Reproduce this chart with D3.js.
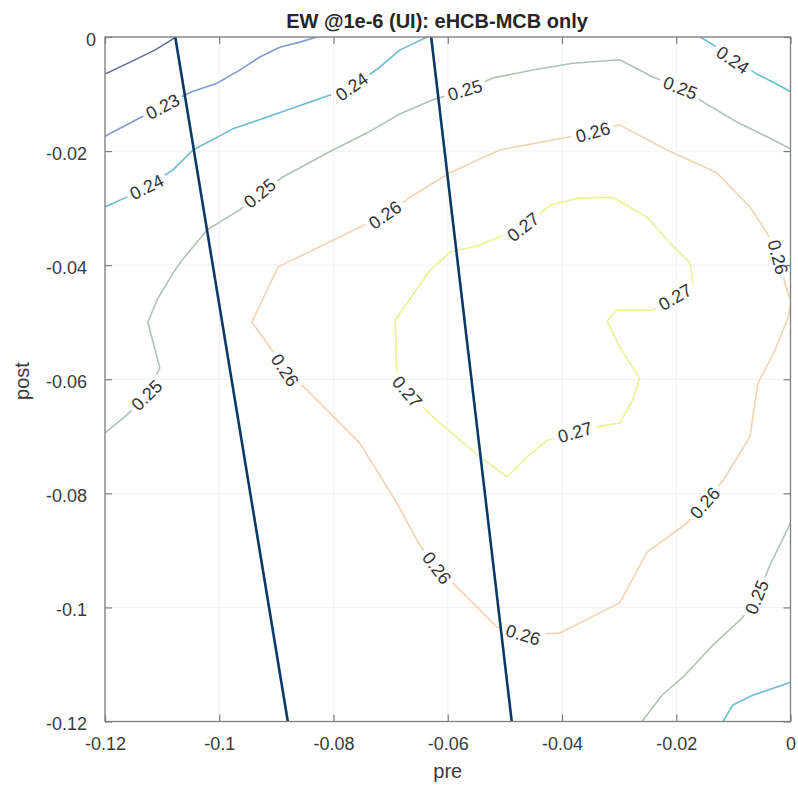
<!DOCTYPE html>
<html>
<head>
<meta charset="utf-8">
<script src="https://cdn.jsdelivr.net/npm/d3@7"></script>
<style>
  html, body { margin: 0; padding: 0; background: #fff; }
  svg { display: block; font-family: "Liberation Sans", Arial, Helvetica, sans-serif; }
</style>
</head>
<body>
<svg id="chart" width="798" height="788"></svg>
<script>
// Axis ticks
const xTicks = [-0.12, -0.1, -0.08, -0.06, -0.04, -0.02, 0];
const xTickLabels = ["-0.12", "-0.1", "-0.08", "-0.06", "-0.04", "-0.02", "0"];
const yTicks = [0, -0.02, -0.04, -0.06, -0.08, -0.1, -0.12];
const yTickLabels = ["0", "-0.02", "-0.04", "-0.06", "-0.08", "-0.1", "-0.12"];

// Contour levels of EW
const contourLevels = [0.22, 0.23, 0.24, 0.25, 0.26, 0.27];

// Iso-lines, points as [pre, post]
const iso022 = [[-0.12, -0.0065], [-0.1156, -0.0044], [-0.1113, -0.0023], [-0.1090, -0.0009], [-0.1076, 0]];
const iso023 = [[-0.12, -0.0174], [-0.1147, -0.0146], [-0.1099, -0.0121], [-0.1048, -0.0096], [-0.1004, -0.0081],
                [-0.0964, -0.0058], [-0.0929, -0.0035], [-0.0894, -0.0018], [-0.0859, -0.0009], [-0.0829, 0]];
const iso024a = [[-0.12, -0.0298], [-0.1165, -0.0282], [-0.1127, -0.0263], [-0.1081, -0.0233], [-0.1046, -0.0198],
                 [-0.0976, -0.0161], [-0.0881, -0.0128], [-0.0801, -0.0100], [-0.0768, -0.0088], [-0.0719, -0.0053],
                 [-0.0684, -0.0023], [-0.0636, 0]];
const iso024b = [[-0.0158, 0], [-0.0132, -0.0016], [-0.0097, -0.0040], [-0.0059, -0.0065], [-0.0027, -0.0081], [0, -0.0096]];
const iso024c = [[-0.0118, -0.12], [-0.0101, -0.1171], [-0.0066, -0.1154], [0, -0.1131]];
const iso025a = [[-0.12, -0.0694], [-0.1162, -0.0663], [-0.1127, -0.0628], [-0.1104, -0.0580], [-0.1125, -0.0500],
                 [-0.1109, -0.0461], [-0.1081, -0.0414], [-0.1065, -0.0391], [-0.1021, -0.0338], [-0.0964, -0.0303],
                 [-0.0929, -0.0274], [-0.0888, -0.0245], [-0.0801, -0.0198], [-0.0741, -0.0168], [-0.0684, -0.0135],
                 [-0.0626, -0.0110], [-0.0570, -0.0093], [-0.0521, -0.0072], [-0.0451, -0.0058], [-0.0381, -0.0046],
                 [-0.0299, -0.0040], [-0.0241, -0.0070], [-0.0193, -0.0089], [-0.0146, -0.0118], [-0.0094, -0.0149],
                 [-0.0041, -0.0175], [0, -0.0196]];
const iso025b = [[0, -0.0852], [-0.0036, -0.0926], [-0.0059, -0.0982], [-0.0085, -0.1019], [-0.0136, -0.1066],
                 [-0.0185, -0.1119], [-0.0225, -0.1154], [-0.0260, -0.12]];
const iso026 = [[0, -0.0461], [-0.0006, -0.0444], [-0.0022, -0.0386], [-0.0041, -0.0344], [-0.0071, -0.0298],
                [-0.0129, -0.0238], [-0.0216, -0.0198], [-0.0299, -0.0154], [-0.0346, -0.0167], [-0.0386, -0.0175],
                [-0.0509, -0.0198], [-0.0596, -0.0238], [-0.0666, -0.0281], [-0.0710, -0.0312], [-0.0771, -0.0342],
                [-0.0897, -0.0403], [-0.0943, -0.0500], [-0.0916, -0.0537], [-0.0885, -0.0584], [-0.0846, -0.0619],
                [-0.0754, -0.0712], [-0.0689, -0.0817], [-0.0649, -0.0891], [-0.0619, -0.0931], [-0.0573, -0.0975],
                [-0.0514, -0.1034], [-0.0468, -0.1048], [-0.0404, -0.1045], [-0.0299, -0.0992], [-0.0251, -0.0903],
                [-0.0181, -0.0852], [-0.0150, -0.0817], [-0.0118, -0.0777], [-0.0071, -0.0701], [-0.0057, -0.0607],
                [-0.0027, -0.0549], [-0.0004, -0.0491], [0, -0.0470]];
const iso027 = [[-0.0176, -0.0396], [-0.0211, -0.0361], [-0.0251, -0.0316], [-0.0311, -0.0281], [-0.0369, -0.0282],
                [-0.0421, -0.0295], [-0.0468, -0.0333], [-0.0544, -0.0365], [-0.0596, -0.0377], [-0.0631, -0.0409],
                [-0.0692, -0.0496], [-0.0689, -0.0601], [-0.0671, -0.0622], [-0.0626, -0.0666], [-0.0544, -0.0736],
                [-0.0496, -0.0771], [-0.0461, -0.0736], [-0.0426, -0.0707], [-0.0377, -0.0693], [-0.0321, -0.0680],
                [-0.0299, -0.0677], [-0.0276, -0.0636], [-0.0264, -0.0598], [-0.0299, -0.0544], [-0.0321, -0.0498],
                [-0.0304, -0.0479], [-0.0241, -0.0479], [-0.0202, -0.0456], [-0.0171, -0.0430], [-0.0176, -0.0396]];

// Inline label anchors, [pre, post]
const labels023 = [[-0.1099, -0.0122]];
const labels024a = [[-0.1127, -0.0263], [-0.0768, -0.0087]];
const labels024b = [[-0.0101, -0.0040]];
const labels025a = [[-0.1127, -0.0628], [-0.0929, -0.0274], [-0.0570, -0.0093], [-0.0193, -0.0089]];
const labels025b = [[-0.0059, -0.0982]];
const labels026 = [[-0.0022, -0.0386], [-0.0346, -0.0167], [-0.0710, -0.0312], [-0.0885, -0.0584],
                   [-0.0619, -0.0931], [-0.0468, -0.1048], [-0.0150, -0.0817]];
const labels027 = [[-0.0468, -0.0333], [-0.0671, -0.0622], [-0.0377, -0.0693], [-0.0202, -0.0456]];

// Two straight boundary lines across the plane
const boundaryA = [[-0.1077, 0], [-0.0880, -0.12]];
const boundaryB = [[-0.0629, 0], [-0.0488, -0.12]];

const isoLines = [
  { level: 0.22, pts: iso022, labels: [] },
  { level: 0.23, pts: iso023, labels: labels023 },
  { level: 0.24, pts: iso024a, labels: labels024a },
  { level: 0.24, pts: iso024b, labels: labels024b },
  { level: 0.24, pts: iso024c, labels: [] },
  { level: 0.25, pts: iso025a, labels: labels025a },
  { level: 0.25, pts: iso025b, labels: labels025b },
  { level: 0.26, pts: iso026, labels: labels026 },
  { level: 0.27, pts: iso027, labels: labels027 }
];

const svg = d3.select("#chart");
const plot = { left: 105, right: 790.5, top: 37, bottom: 721.5 };

const x = d3.scaleLinear().domain([-0.12, 0]).range([plot.left, plot.right]);
const y = d3.scaleLinear().domain([-0.12, 0]).range([plot.bottom, plot.top]);

// faded parula-like colours per level
const color = d3.scaleOrdinal()
  .domain(contourLevels)
  .range(["#676b98", "#7e9dd0", "#6dbccd", "#b2c2b4", "#efd4b0", "#ebf294"]);

const fmt = d3.format(".2f");

// grid
const grid = svg.append("g");
grid.selectAll("line.gx").data(xTicks).join("line")
  .attr("x1", d => x(d)).attr("x2", d => x(d))
  .attr("y1", plot.top).attr("y2", plot.bottom)
  .attr("stroke", "#f1f1f1").attr("stroke-width", 1);
grid.selectAll("line.gy").data(yTicks).join("line")
  .attr("y1", d => y(d)).attr("y2", d => y(d))
  .attr("x1", plot.left).attr("x2", plot.right)
  .attr("stroke", "#f1f1f1").attr("stroke-width", 1);

// label placement: rotate text along the nearest segment
function labelAngle(screenPts, p) {
  let best = Infinity, ang = 0;
  for (let i = 0; i < screenPts.length - 1; i++) {
    const a = screenPts[i], b = screenPts[i + 1];
    const dx = b[0] - a[0], dy = b[1] - a[1];
    const len2 = dx * dx + dy * dy || 1;
    let t = ((p[0] - a[0]) * dx + (p[1] - a[1]) * dy) / len2;
    t = Math.max(0, Math.min(1, t));
    const qx = a[0] + t * dx, qy = a[1] + t * dy;
    const dist = Math.hypot(p[0] - qx, p[1] - qy);
    if (dist < best) { best = dist; ang = Math.atan2(dy, dx) * 180 / Math.PI; }
  }
  if (ang > 90) ang -= 180;
  if (ang < -90) ang += 180;
  return ang;
}

const defs = svg.append("defs");
defs.append("clipPath").attr("id", "plotClip").append("rect")
  .attr("x", plot.left).attr("y", plot.top)
  .attr("width", plot.right - plot.left).attr("height", plot.bottom - plot.top);
const mask = defs.append("mask").attr("id", "labelMask").attr("maskUnits", "userSpaceOnUse")
  .attr("x", 0).attr("y", 0).attr("width", 798).attr("height", 788);
mask.append("rect").attr("x", 0).attr("y", 0).attr("width", 798).attr("height", 788).attr("fill", "#fff");

const lineGen = d3.line().x(d => x(d[0])).y(d => y(d[1]));

const contourG = svg.append("g").attr("clip-path", "url(#plotClip)")
  .append("g").attr("mask", "url(#labelMask)");
contourG.selectAll("path").data(isoLines).join("path")
  .attr("d", d => lineGen(d.pts))
  .attr("fill", "none")
  .attr("stroke", d => color(d.level))
  .attr("stroke-width", 1.6)
  .attr("stroke-linejoin", "round");

const labelG = svg.append("g");
isoLines.forEach(line => {
  const screen = line.pts.map(p => [x(p[0]), y(p[1])]);
  line.labels.forEach(lp => {
    const px = x(lp[0]), py = y(lp[1]);
    const ang = labelAngle(screen, [px, py]);
    const t = labelG.append("text")
      .attr("transform", `translate(${px},${py}) rotate(${ang})`)
      .attr("text-anchor", "middle")
      .attr("dy", "0.35em")
      .attr("font-size", 18)
      .attr("fill", "#333")
      .text(fmt(line.level));
    const w = t.node().getComputedTextLength();
    mask.append("rect")
      .attr("x", -w / 2 - 4).attr("y", -8).attr("width", w + 8).attr("height", 16)
      .attr("transform", `translate(${px},${py}) rotate(${ang})`)
      .attr("fill", "#000");
  });
});

// boundary lines
svg.append("g").attr("clip-path", "url(#plotClip)")
  .selectAll("path").data([boundaryA, boundaryB]).join("path")
  .attr("d", d => lineGen(d))
  .attr("fill", "none")
  .attr("stroke", "#0b3a66")
  .attr("stroke-width", 2.6);

// axes
const axisColor = "#7d7d7d";
const tickColor = "#3a3a3a";

const xAxis = svg.append("g").attr("transform", `translate(0,${plot.bottom})`)
  .call(d3.axisBottom(x).tickValues(xTicks).tickFormat((d, i) => xTickLabels[i])
    .tickSizeInner(-7).tickSizeOuter(0).tickPadding(15.5));
const yAxis = svg.append("g").attr("transform", `translate(${plot.left},0)`)
  .call(d3.axisLeft(y).tickValues(yTicks).tickFormat((d, i) => yTickLabels[i])
    .tickSizeInner(-7).tickSizeOuter(0).tickPadding(18));
const xTop = svg.append("g").attr("transform", `translate(0,${plot.top})`)
  .call(d3.axisTop(x).tickValues(xTicks).tickFormat("").tickSizeInner(-7).tickSizeOuter(0));
const yRight = svg.append("g").attr("transform", `translate(${plot.right},0)`)
  .call(d3.axisRight(y).tickValues(yTicks).tickFormat("").tickSizeInner(-7).tickSizeOuter(0));

[xAxis, yAxis, xTop, yRight].forEach(g => {
  g.select(".domain").remove();
  g.selectAll(".tick line").attr("stroke", axisColor).attr("stroke-width", 1.2);
  g.selectAll(".tick text")
    .attr("font-size", 18)
    .attr("font-family", "'Liberation Sans', Arial, sans-serif")
    .attr("fill", tickColor);
});
yAxis.selectAll(".tick text").attr("dy", "0.45em");
// the lone "0" label sits a little further right
yAxis.selectAll(".tick text").filter(d => d === 0).attr("x", -9);

svg.append("rect")
  .attr("x", plot.left).attr("y", plot.top)
  .attr("width", plot.right - plot.left).attr("height", plot.bottom - plot.top)
  .attr("fill", "none").attr("stroke", axisColor).attr("stroke-width", 1.3);

// titles
svg.append("text")
  .attr("x", 437).attr("y", 28)
  .attr("text-anchor", "middle")
  .attr("font-size", 20).attr("font-weight", "bold")
  .attr("fill", "#262626")
  .text("EW @1e-6 (UI): eHCB-MCB only");

svg.append("text")
  .attr("x", (plot.left + plot.right) / 2).attr("y", 778)
  .attr("text-anchor", "middle")
  .attr("font-size", 20).attr("fill", tickColor)
  .text("pre");

svg.append("text")
  .attr("transform", `translate(29,381) rotate(-90)`)
  .attr("text-anchor", "middle")
  .attr("font-size", 20).attr("fill", tickColor)
  .text("post");
</script>
</body>
</html>
